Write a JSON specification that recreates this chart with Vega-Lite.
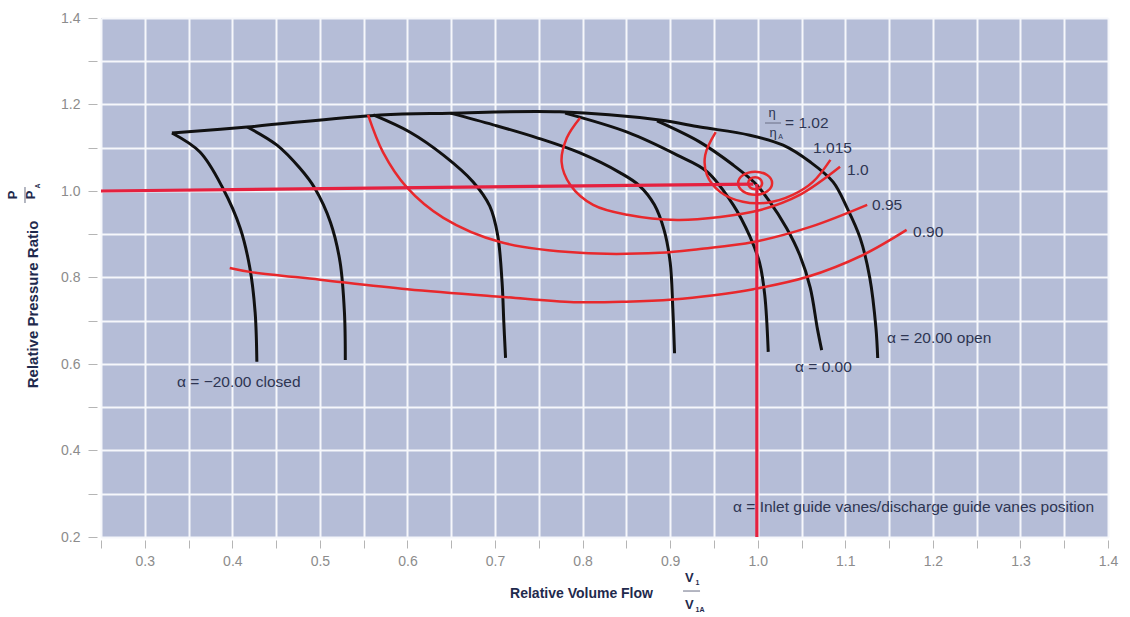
{
  "$schema": "https://vega.github.io/schema/vega-lite/v6.json",
  "width": 1007,
  "height": 519,
  "autosize": {"type": "none"},
  "padding": {"left": 101, "top": 18, "right": 22, "bottom": 80},
  "background": "#ffffff",
  "config": {
    "view": {"fill": "#b5bdd7", "stroke": null},
    "font": "Liberation Sans",
    "axis": {
      "domain": false,
      "grid": true,
      "gridColor": "#f6f7fb",
      "gridWidth": 2,
      "gridOpacity": 1,
      "tickColor": "#b5b5b5",
      "tickWidth": 1,
      "labelColor": "#8c8c8c",
      "labelFont": "Liberation Sans",
      "labelFontSize": 14,
      "labelOverlap": false,
      "labelFlush": false,
      "titleFont": "Liberation Sans",
      "titleFontWeight": "bold",
      "titleColor": "#1f2a4d"
    }
  },
  "datasets": {
    "alpha": [
      {"c": "a", "x": 0.331, "y": 1.134}, {"c": "a", "x": 0.363, "y": 1.09}, {"c": "a", "x": 0.389, "y": 1.007}, {"c": "a", "x": 0.409, "y": 0.914}, {"c": "a", "x": 0.42, "y": 0.822}, {"c": "a", "x": 0.426, "y": 0.72}, {"c": "a", "x": 0.428, "y": 0.605},
      {"c": "b", "x": 0.417, "y": 1.148}, {"c": "b", "x": 0.451, "y": 1.106}, {"c": "b", "x": 0.477, "y": 1.053}, {"c": "b", "x": 0.494, "y": 1.007}, {"c": "b", "x": 0.512, "y": 0.928}, {"c": "b", "x": 0.523, "y": 0.836}, {"c": "b", "x": 0.528, "y": 0.72}, {"c": "b", "x": 0.529, "y": 0.609},
      {"c": "c", "x": 0.561, "y": 1.176}, {"c": "c", "x": 0.603, "y": 1.136}, {"c": "c", "x": 0.641, "y": 1.083}, {"c": "c", "x": 0.675, "y": 1.021}, {"c": "c", "x": 0.694, "y": 0.965}, {"c": "c", "x": 0.703, "y": 0.898}, {"c": "c", "x": 0.708, "y": 0.79}, {"c": "c", "x": 0.71, "y": 0.697}, {"c": "c", "x": 0.712, "y": 0.614},
      {"c": "d", "x": 0.649, "y": 1.18}, {"c": "d", "x": 0.698, "y": 1.153}, {"c": "d", "x": 0.748, "y": 1.123}, {"c": "d", "x": 0.797, "y": 1.088}, {"c": "d", "x": 0.843, "y": 1.042}, {"c": "d", "x": 0.865, "y": 1.012}, {"c": "d", "x": 0.882, "y": 0.968}, {"c": "d", "x": 0.893, "y": 0.91}, {"c": "d", "x": 0.9, "y": 0.835}, {"c": "d", "x": 0.903, "y": 0.729}, {"c": "d", "x": 0.905, "y": 0.625},
      {"c": "e", "x": 0.78, "y": 1.18}, {"c": "e", "x": 0.851, "y": 1.136}, {"c": "e", "x": 0.908, "y": 1.083}, {"c": "e", "x": 0.942, "y": 1.045}, {"c": "e", "x": 0.972, "y": 0.968}, {"c": "e", "x": 0.991, "y": 0.895}, {"c": "e", "x": 1.002, "y": 0.835}, {"c": "e", "x": 1.008, "y": 0.76}, {"c": "e", "x": 1.012, "y": 0.628},
      {"c": "f", "x": 0.885, "y": 1.162}, {"c": "f", "x": 0.934, "y": 1.113}, {"c": "f", "x": 0.972, "y": 1.06}, {"c": "f", "x": 0.997, "y": 1.018}, {"c": "f", "x": 1.012, "y": 0.98}, {"c": "f", "x": 1.033, "y": 0.914}, {"c": "f", "x": 1.048, "y": 0.852}, {"c": "f", "x": 1.06, "y": 0.776}, {"c": "f", "x": 1.068, "y": 0.683}, {"c": "f", "x": 1.073, "y": 0.632},
      {"c": "g", "x": 0.331, "y": 1.134}, {"c": "g", "x": 0.417, "y": 1.148}, {"c": "g", "x": 0.569, "y": 1.176}, {"c": "g", "x": 0.649, "y": 1.18}, {"c": "g", "x": 0.774, "y": 1.183}, {"c": "g", "x": 0.888, "y": 1.164}, {"c": "g", "x": 0.934, "y": 1.148}, {"c": "g", "x": 0.991, "y": 1.129}, {"c": "g", "x": 1.029, "y": 1.106}, {"c": "g", "x": 1.06, "y": 1.067}, {"c": "g", "x": 1.086, "y": 1.021}, {"c": "g", "x": 1.102, "y": 0.961}, {"c": "g", "x": 1.117, "y": 0.891}, {"c": "g", "x": 1.128, "y": 0.799}, {"c": "g", "x": 1.135, "y": 0.683}, {"c": "g", "x": 1.137, "y": 0.614}
    ],
    "eff": [
      {"c": "0.90", "x": 0.397, "y": 0.822}, {"c": "0.90", "x": 0.42, "y": 0.813}, {"c": "0.90", "x": 0.5, "y": 0.795}, {"c": "0.90", "x": 0.6, "y": 0.773}, {"c": "0.90", "x": 0.709, "y": 0.755}, {"c": "0.90", "x": 0.79, "y": 0.743}, {"c": "0.90", "x": 0.85, "y": 0.744}, {"c": "0.90", "x": 0.903, "y": 0.749}, {"c": "0.90", "x": 0.95, "y": 0.759}, {"c": "0.90", "x": 0.995, "y": 0.773}, {"c": "0.90", "x": 1.056, "y": 0.801}, {"c": "0.90", "x": 1.12, "y": 0.852}, {"c": "0.90", "x": 1.17, "y": 0.91},
      {"c": "0.95", "x": 0.555, "y": 1.176}, {"c": "0.95", "x": 0.572, "y": 1.09}, {"c": "0.95", "x": 0.599, "y": 1.009}, {"c": "0.95", "x": 0.641, "y": 0.938}, {"c": "0.95", "x": 0.706, "y": 0.882}, {"c": "0.95", "x": 0.797, "y": 0.857}, {"c": "0.95", "x": 0.888, "y": 0.857}, {"c": "0.95", "x": 0.934, "y": 0.866}, {"c": "0.95", "x": 0.995, "y": 0.882}, {"c": "0.95", "x": 1.06, "y": 0.917}, {"c": "0.95", "x": 1.125, "y": 0.968},
      {"c": "1.0", "x": 0.797, "y": 1.169}, {"c": "1.0", "x": 0.782, "y": 1.123}, {"c": "1.0", "x": 0.776, "y": 1.067}, {"c": "1.0", "x": 0.786, "y": 1.014}, {"c": "1.0", "x": 0.812, "y": 0.968}, {"c": "1.0", "x": 0.851, "y": 0.945}, {"c": "1.0", "x": 0.908, "y": 0.933}, {"c": "1.0", "x": 0.957, "y": 0.94}, {"c": "1.0", "x": 1.003, "y": 0.956}, {"c": "1.0", "x": 1.048, "y": 0.991}, {"c": "1.0", "x": 1.094, "y": 1.056},
      {"c": "1.015", "x": 0.952, "y": 1.136}, {"c": "1.015", "x": 0.94, "y": 1.083}, {"c": "1.015", "x": 0.942, "y": 1.037}, {"c": "1.015", "x": 0.957, "y": 0.998}, {"c": "1.015", "x": 0.983, "y": 0.975}, {"c": "1.015", "x": 1.011, "y": 0.973}, {"c": "1.015", "x": 1.04, "y": 0.991}, {"c": "1.015", "x": 1.063, "y": 1.021}, {"c": "1.015", "x": 1.083, "y": 1.072}
    ],
    "rings": [
      {"c": "outer", "x": 1.0164, "y": 1.018}, {"c": "outer", "x": 1.0107, "y": 1.0368}, {"c": "outer", "x": 0.997, "y": 1.0446}, {"c": "outer", "x": 0.9833, "y": 1.0368}, {"c": "outer", "x": 0.9776, "y": 1.018}, {"c": "outer", "x": 0.9833, "y": 0.9992}, {"c": "outer", "x": 0.997, "y": 0.9914}, {"c": "outer", "x": 1.0107, "y": 0.9992},
      {"c": "inner", "x": 1.005, "y": 1.018}, {"c": "inner", "x": 1.0027, "y": 1.0278}, {"c": "inner", "x": 0.997, "y": 1.0319}, {"c": "inner", "x": 0.9913, "y": 1.0278}, {"c": "inner", "x": 0.989, "y": 1.018}, {"c": "inner", "x": 0.9913, "y": 1.0082}, {"c": "inner", "x": 0.997, "y": 1.0041}, {"c": "inner", "x": 1.0027, "y": 1.0082}
    ],
    "design": [
      {"c": "h", "x": 0.25, "y": 1.0}, {"c": "h", "x": 0.995, "y": 1.016},
      {"c": "v", "x": 0.999, "y": 1.016}, {"c": "v", "x": 0.999, "y": 0.2}
    ],
    "ann": [
      {"x": 1.0312, "y": 1.1572, "t": "= 1.02"},
      {"x": 1.0632, "y": 1.0994, "t": "1.015"},
      {"x": 1.102, "y": 1.0486, "t": "1.0"},
      {"x": 1.1305, "y": 0.9676, "t": "0.95"},
      {"x": 1.1774, "y": 0.9052, "t": "0.90"},
      {"x": 1.1477, "y": 0.6601, "t": "α = 20.00 open"},
      {"x": 1.0426, "y": 0.5931, "t": "α = 0.00"},
      {"x": 0.3368, "y": 0.5584, "t": "α = −20.00 closed"},
      {"x": 0.9718, "y": 0.2694, "t": "α = Inlet guide vanes/discharge guide vanes position"}
    ],
    "sym": [
      {"x": 1.0163, "y": 1.1803, "t": "η"},
      {"x": 1.0176, "y": 1.1341, "t": "η"}
    ],
    "symsub": [
      {"x": 1.026, "y": 1.126, "t": "A"}
    ],
    "fracline": [
      {"x": 1.0083, "x2": 1.0266, "y": 1.1572},
      {"x": 0.9147, "x2": 0.9341, "y": 0.0751}
    ],
    "vbig": [
      {"x": 0.922, "y": 0.1052, "t": "V"},
      {"x": 0.922, "y": 0.0428, "t": "V"}
    ],
    "vsub": [
      {"x": 0.929, "y": 0.094, "t": "1"},
      {"x": 0.929, "y": 0.031, "t": "1A"}
    ],
    "pbig": [
      {"x": 0.1495, "y": 0.9908, "t": "P"},
      {"x": 0.17, "y": 0.9908, "t": "P"}
    ],
    "psub": [
      {"x": 0.178, "y": 1.0116, "t": "A"}
    ],
    "pline": [
      {"x": 0.1632, "y": 1.0092, "y2": 0.9722}
    ]
  },
  "layer": [
    {
      "data": {"name": "alpha"},
      "mark": {"type": "line", "color": "#111111", "strokeWidth": 3, "interpolate": "catmull-rom"},
      "encoding": {
        "x": {
          "field": "x", "type": "quantitative",
          "scale": {"domain": [0.25, 1.4], "nice": false, "zero": false},
          "axis": {
            "values": [0.25, 0.3, 0.35, 0.4, 0.45, 0.5, 0.55, 0.6, 0.65, 0.7, 0.75, 0.8, 0.85, 0.9, 0.95, 1.0, 1.05, 1.1, 1.15, 1.2, 1.25, 1.3, 1.35, 1.4],
            "labelExpr": "abs(datum.value*10 - round(datum.value*10)) < 0.001 ? format(datum.value, '.1f') : ''",
            "offset": 3, "tickSize": 8, "labelPadding": 6,
            "title": "Relative Volume Flow",
            "titleFontSize": 14,
            "titleX": 480, "titleY": 53, "titleBaseline": "middle", "titleAnchor": null
          }
        },
        "y": {
          "field": "y", "type": "quantitative",
          "scale": {"domain": [0.2, 1.4], "nice": false, "zero": false},
          "axis": {
            "values": [0.2, 0.3, 0.4, 0.5, 0.6, 0.7, 0.8, 0.9, 1.0, 1.1, 1.2, 1.3, 1.4],
            "labelExpr": "round(datum.value*10) % 2 == 0 ? format(datum.value, '.1f') : ''",
            "offset": 4, "tickSize": 9, "labelPadding": 8,
            "title": "Relative Pressure Ratio",
            "titleFontSize": 15,
            "titleX": -65, "titleY": 286, "titleBaseline": "middle", "titleAngle": 270
          }
        },
        "detail": {"field": "c"},
        "order": {"value": null}
      }
    },
    {
      "data": {"name": "eff"},
      "mark": {"type": "line", "color": "#e8282c", "strokeWidth": 2.5, "interpolate": "catmull-rom"},
      "encoding": {
        "x": {"field": "x", "type": "quantitative"},
        "y": {"field": "y", "type": "quantitative"},
        "detail": {"field": "c"},
        "order": {"value": null}
      }
    },
    {
      "data": {"name": "rings"},
      "mark": {"type": "line", "color": "#e8282c", "strokeWidth": 2.5, "interpolate": "cardinal-closed"},
      "encoding": {
        "x": {"field": "x", "type": "quantitative"},
        "y": {"field": "y", "type": "quantitative"},
        "detail": {"field": "c"},
        "order": {"value": null}
      }
    },
    {
      "data": {"name": "design"},
      "mark": {"type": "line", "color": "#e5213f", "strokeWidth": 3.2},
      "encoding": {
        "x": {"field": "x", "type": "quantitative"},
        "y": {"field": "y", "type": "quantitative"},
        "detail": {"field": "c"},
        "order": {"value": null}
      }
    },
    {
      "data": {"name": "ann"},
      "mark": {"type": "text", "align": "left", "baseline": "middle", "fontSize": 15.5, "font": "Liberation Sans", "color": "#2e3552"},
      "encoding": {
        "x": {"field": "x", "type": "quantitative"},
        "y": {"field": "y", "type": "quantitative"},
        "text": {"field": "t"}
      }
    },
    {
      "data": {"name": "sym"},
      "mark": {"type": "text", "align": "center", "baseline": "middle", "fontSize": 13, "color": "#2e3552"},
      "encoding": {
        "x": {"field": "x", "type": "quantitative"},
        "y": {"field": "y", "type": "quantitative"},
        "text": {"field": "t"}
      }
    },
    {
      "data": {"name": "symsub"},
      "mark": {"type": "text", "align": "center", "baseline": "middle", "fontSize": 7, "color": "#2e3552"},
      "encoding": {
        "x": {"field": "x", "type": "quantitative"},
        "y": {"field": "y", "type": "quantitative"},
        "text": {"field": "t"}
      }
    },
    {
      "data": {"name": "fracline"},
      "mark": {"type": "rule", "color": "#6a6f85", "strokeWidth": 1},
      "encoding": {
        "x": {"field": "x", "type": "quantitative"},
        "x2": {"field": "x2"},
        "y": {"field": "y", "type": "quantitative"}
      }
    },
    {
      "data": {"name": "vbig"},
      "mark": {"type": "text", "align": "center", "baseline": "middle", "fontSize": 13, "fontWeight": "bold", "color": "#1f2a4d"},
      "encoding": {
        "x": {"field": "x", "type": "quantitative"},
        "y": {"field": "y", "type": "quantitative"},
        "text": {"field": "t"}
      }
    },
    {
      "data": {"name": "vsub"},
      "mark": {"type": "text", "align": "left", "baseline": "middle", "fontSize": 7, "fontWeight": "bold", "color": "#1f2a4d"},
      "encoding": {
        "x": {"field": "x", "type": "quantitative"},
        "y": {"field": "y", "type": "quantitative"},
        "text": {"field": "t"}
      }
    },
    {
      "data": {"name": "pbig"},
      "mark": {"type": "text", "align": "center", "baseline": "middle", "fontSize": 13, "fontWeight": "bold", "angle": 270, "color": "#1f2a4d"},
      "encoding": {
        "x": {"field": "x", "type": "quantitative"},
        "y": {"field": "y", "type": "quantitative"},
        "text": {"field": "t"}
      }
    },
    {
      "data": {"name": "psub"},
      "mark": {"type": "text", "align": "center", "baseline": "middle", "fontSize": 7, "fontWeight": "bold", "angle": 270, "color": "#1f2a4d"},
      "encoding": {
        "x": {"field": "x", "type": "quantitative"},
        "y": {"field": "y", "type": "quantitative"},
        "text": {"field": "t"}
      }
    },
    {
      "data": {"name": "pline"},
      "mark": {"type": "rule", "color": "#6a6f85", "strokeWidth": 1},
      "encoding": {
        "x": {"field": "x", "type": "quantitative"},
        "y": {"field": "y", "type": "quantitative"},
        "y2": {"field": "y2"}
      }
    }
  ]
}
